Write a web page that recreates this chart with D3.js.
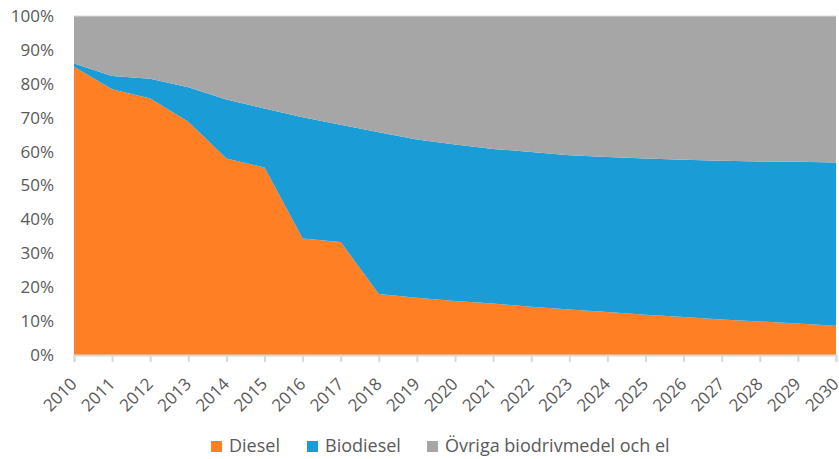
<!DOCTYPE html>
<html>
<head>
<meta charset="utf-8">
<script src="https://cdn.jsdelivr.net/npm/d3@7"></script>
<style>
  body { margin: 0; background: #fff; }
  svg text { font-family: 'Open Sans', sans-serif; fill: #595959; }
</style>
</head>
<body>
<svg id="chart" width="839" height="459"></svg>
<script>
// data, share of fuel (%)
const years = ['2010', '2011', '2012', '2013', '2014', '2015', '2016', '2017', '2018', '2019', '2020',
  '2021', '2022', '2023', '2024', '2025', '2026', '2027', '2028', '2029', '2030']
const diesel = [85, 78.4, 75.7, 68.8, 58, 55.3, 34.4, 33.3, 18.0, 16.9, 15.9, 15.2, 14.2, 13.4, 12.7, 11.9, 11.2, 10.5, 9.9, 9.3, 8.6]
const biodiesel = [1.0, 3.9, 5.8, 10.2, 17.4, 17.4, 35.7, 34.6, 47.7, 46.7, 46.2, 45.6, 45.7, 45.5, 45.7, 46.1, 46.4, 46.8, 47.2, 47.7, 48.2]
const ovriga = [14, 17.7, 18.5, 21, 24.6, 27.3, 29.9, 32.1, 34.3, 36.4, 37.9, 39.2, 40.1, 41.1, 41.6, 42.0, 42.4, 42.7, 42.9, 43.0, 43.2]
const seriesNames = ['Diesel', 'Biodiesel', 'Övriga biodrivmedel och el']
const colors = ['#ff7f24', '#1a9cd6', '#a6a6a6']
const yTicks = [0, 10, 20, 30, 40, 50, 60, 70, 80, 90, 100]

const svg = d3.select('#chart'),
  margin = { top: 16, right: 3, bottom: 104, left: 74 },
  width = +svg.attr('width') - margin.left - margin.right,
  height = +svg.attr('height') - margin.top - margin.bottom,
  g = svg.append('g').attr('transform', 'translate(' + margin.left + ',' + margin.top + ')')

const x = d3.scalePoint().domain(years).range([0, width])
const y = d3.scaleLinear().domain([0, 100]).range([height, 0])

const rows = years.map((yr, i) => ({ year: yr, d: diesel[i], b: biodiesel[i], o: ovriga[i] }))
const stack = d3.stack().keys(['d', 'b', 'o'])
const layers = stack(rows)

const area = d3.area()
  .x((d) => x(d.data.year))
  .y0((d) => y(d[0]))
  .y1((d) => y(d[1]))

g.selectAll('.layer')
  .data(layers)
  .enter().append('path')
  .attr('class', 'layer')
  .attr('fill', (d, i) => colors[i])
  .attr('d', area)

// thin frame on top like the original
g.append('line').attr('x1', 0).attr('x2', width).attr('y1', 0).attr('y2', 0)
  .attr('stroke', '#d9d9d9').attr('stroke-width', 1)

// y axis labels
g.selectAll('.ylab')
  .data(yTicks)
  .enter().append('text')
  .attr('class', 'ylab')
  .attr('x', -20)
  .attr('y', (d) => y(d))
  .attr('dy', '0.35em')
  .attr('text-anchor', 'end')
  .style('font-size', '17px')
  .text((d) => d + '%')

// x axis
const xAxis = g.append('g')
  .attr('transform', 'translate(0,' + height + ')')
  .call(d3.axisBottom(x).tickSize(7).tickFormat(''))
xAxis.select('.domain').attr('stroke', '#d9d9d9').attr('stroke-width', 2)
xAxis.selectAll('.tick line').attr('stroke', '#d9d9d9').attr('stroke-width', 2)

g.selectAll('.xlab')
  .data(years)
  .enter().append('text')
  .attr('class', 'xlab')
  .attr('text-anchor', 'end')
  .attr('transform', (d) => 'translate(' + (x(d) + 4) + ',' + (height + 30) + ') rotate(-45)')
  .style('font-size', '17px')
  .text((d) => d)

// legend
const legendX = [211, 307, 427]
const legend = svg.append('g').attr('transform', 'translate(0,441)')
seriesNames.forEach((name, i) => {
  legend.append('rect')
    .attr('x', legendX[i]).attr('y', 0)
    .attr('width', 11).attr('height', 11)
    .attr('fill', colors[i])
  legend.append('text')
    .attr('x', legendX[i] + 18).attr('y', 11)
    .style('font-size', '18px')
    .text(name)
})
</script>
</body>
</html>
